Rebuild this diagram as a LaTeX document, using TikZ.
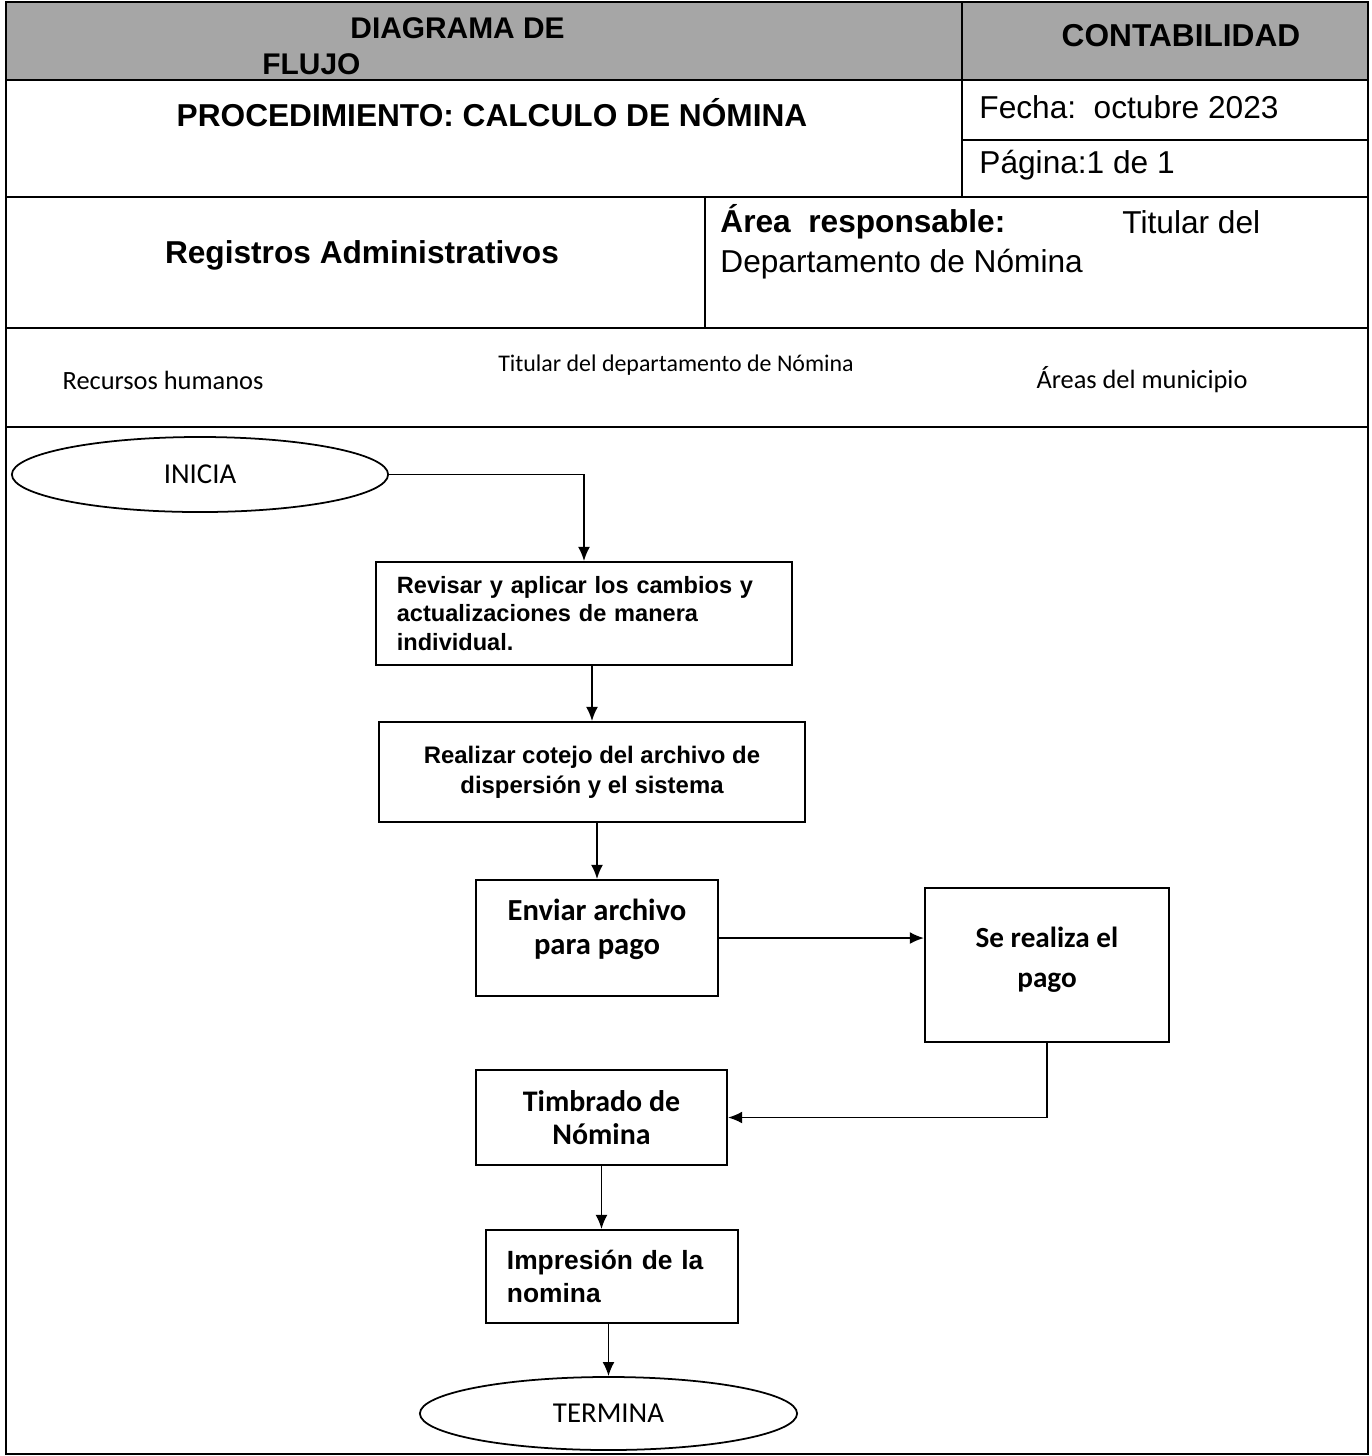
\documentclass[tikz,border=0pt]{standalone}
\usepackage{fontspec}
\setmainfont{Liberation Sans}
\newfontfamily\calibri{Carlito}
\usetikzlibrary{arrows.meta,shapes.geometric}

\tikzset{
  marco/.style={line width=0.6pt},
  caja/.style={draw, line width=0.6pt, rectangle, inner sep=0pt},
  terminal/.style={draw, line width=0.5pt, ellipse, inner sep=0pt,
    font=\calibri\fontsize{8.2}{10}\selectfont},
  flecha/.style={line width=0.45pt, -{Latex[length=4pt,width=3.4pt]}},
  carril/.style={font=\calibri\fontsize{7.5}{9}\selectfont},
}

\begin{document}
\begin{tikzpicture}[x=0.01cm, y=-0.01cm]
  \useasboundingbox (0,0) rectangle (1372,1456);

  % encabezado
  \fill[black!35] (6,2) rectangle (1368,80);
  \draw[marco] (6,2) rectangle (1368,1454);
  \draw[marco] (6,80) -- (1368,80);
  \draw[marco] (962,2) -- (962,197);
  \draw[marco] (962,140) -- (1368,140);
  \draw[marco] (6,197) -- (1368,197);
  \draw[marco] (705,197) -- (705,328);
  \draw[marco] (6,328) -- (1368,328);
  \draw[marco] (6,427) -- (1368,427);

  \node[anchor=west, font=\bfseries\fontsize{8.5}{10}\selectfont] (diag) at (338,28) {DIAGRAMA DE};
  \node[anchor=west, font=\bfseries\fontsize{8.5}{10}\selectfont] (flujo) at (250,64) {FLUJO};
  \node[font=\bfseries\fontsize{9}{11}\selectfont] (conta) at (1181,36) {CONTABILIDAD};
  \node[font=\bfseries\fontsize{9}{11}\selectfont] (proc) at (492,113) {PROCEDIMIENTO: CALCULO DE NÓMINA};
  \node[anchor=west, font=\fontsize{9}{11}\selectfont] (fecha) at (967,107) {Fecha:\ \ octubre 2023};
  \node[anchor=west, font=\fontsize{9}{11}\selectfont] (pagina) at (967,165) {Página:1 de 1};
  \node[font=\bfseries\fontsize{9}{11}\selectfont] (regis) at (362,255) {Registros Administrativos};
  \node[anchor=west, font=\bfseries\fontsize{9}{11}\selectfont] (area) at (708,222) {Área\ \ responsable:};
  \node[anchor=west, font=\fontsize{9}{11}\selectfont] (titular) at (1110,222) {Titular del};
  \node[anchor=west, font=\fontsize{9}{11}\selectfont] (depto) at (708,264) {Departamento de Nómina};

  % carriles
  \node[carril] (rh) at (163,380) {Recursos humanos};
  \node[carril, font=\calibri\fontsize{6.8}{8}\selectfont] (tdn) at (676,365) {Titular del departamento de Nómina};
  \node[carril] (amun) at (1142,380) {Áreas del municipio};

  % diagrama
  \node[terminal, minimum width=3.76cm, minimum height=0.75cm] (inicia) at (200,474.5) {INICIA};
  \node[caja, minimum width=4.16cm, minimum height=1.03cm, text width=3.74cm, align=left,
    font=\bfseries\fontsize{6.7}{8.2}\selectfont] (rev) at (584,613.5)
    {Revisar y aplicar los cambios y\\ actualizaciones de manera\\ individual.};
  \node[caja, minimum width=4.26cm, minimum height=1.00cm, align=center,
    font=\bfseries\fontsize{6.8}{8.5}\selectfont] (cot) at (592,772)
    {Realizar cotejo del archivo de\\ dispersión y el sistema};
  \node[caja, minimum width=2.42cm, minimum height=1.16cm, align=center,
    font=\calibri\bfseries\fontsize{8.7}{9.7}\selectfont] (env) at (597,938)
    {\raisebox{2.4pt}[\height][\depth]{\shortstack{Enviar archivo\\[2.2pt] para pago}}};
  \node[caja, minimum width=2.44cm, minimum height=1.54cm, align=center,
    font=\calibri\bfseries\fontsize{8.3}{11.4}\selectfont] (pago) at (1047,965)
    {\raisebox{1.6pt}[\height][\depth]{\shortstack{Se realiza el\\[4.2pt] pago}}};
  \node[caja, minimum width=2.51cm, minimum height=0.95cm, align=center,
    font=\calibri\bfseries\fontsize{8.5}{9.4}\selectfont] (timb) at (601.5,1117.5)
    {Timbrado de\\ Nómina};
  \node[caja, minimum width=2.52cm, minimum height=0.93cm, text width=2.10cm, align=left,
    font=\bfseries\fontsize{7.5}{9.4}\selectfont] (imp) at (612,1276.5)
    {Impresión de la\\ nomina};
  \node[terminal, minimum width=3.77cm, minimum height=0.73cm] (termina) at (608.5,1413.5) {TERMINA};

  \draw[flecha] (inicia.east) -| (rev.north);
  \draw[flecha] (cot.north |- rev.south) -- (cot.north);
  \draw[flecha] (env.north |- cot.south) -- (env.north);
  \draw[flecha] (env.east) -- (env.east -| pago.west);
  \draw[flecha] (pago.south) |- (timb.east);
  \draw[flecha] (timb.south) -- (timb.south |- imp.north);
  \draw[flecha] (termina.north |- imp.south) -- (termina.north);
\end{tikzpicture}
\end{document}
